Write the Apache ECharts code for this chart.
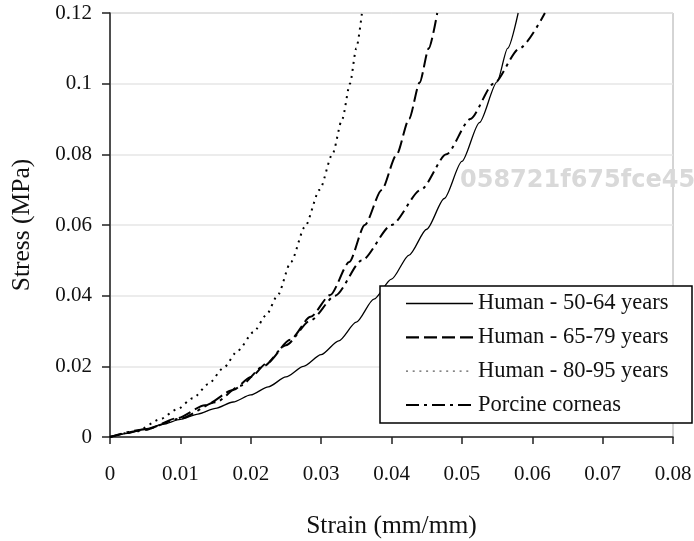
<!DOCTYPE html>
<html><head><meta charset="utf-8">
<script src="https://cdn.jsdelivr.net/npm/echarts@6/dist/echarts.min.js"></script>
<style>html,body{margin:0;padding:0;background:#fff}#c{width:694px;height:541px}</style>
</head><body><div id="c"></div>
<script>
const xTicks = [0, 0.01, 0.02, 0.03, 0.04, 0.05, 0.06, 0.07, 0.08];
const yTicks = [0, 0.02, 0.04, 0.06, 0.08, 0.1, 0.12];
const seriesNames = ['Human - 50-64 years', 'Human - 65-79 years', 'Human - 80-95 years', 'Porcine corneas'];

const strain50 = [0, 0.0025, 0.005, 0.0075, 0.01, 0.0125, 0.015, 0.0175, 0.02, 0.0225, 0.025, 0.0275, 0.03, 0.0325, 0.035, 0.0375, 0.04, 0.0425, 0.045, 0.0475, 0.05, 0.0525, 0.055, 0.0565, 0.058];
const stress50 = [0, 0.0010, 0.0023, 0.0036, 0.0050, 0.0065, 0.0081, 0.0099, 0.0119, 0.0142, 0.0170, 0.0200, 0.0233, 0.0272, 0.0325, 0.0390, 0.0447, 0.0515, 0.0588, 0.0675, 0.0780, 0.0890, 0.1005, 0.1100, 0.1200];

const strain65 = [0, 0.005, 0.0095, 0.0135, 0.0175, 0.02, 0.0223, 0.0256, 0.0285, 0.0313, 0.034, 0.0362, 0.0386, 0.0407, 0.0425, 0.044, 0.0453, 0.0465];
const stress65 = [0, 0.0020, 0.0053, 0.0090, 0.0133, 0.0170, 0.0209, 0.0275, 0.0340, 0.0402, 0.0495, 0.0600, 0.0699, 0.0798, 0.0900, 0.1003, 0.1100, 0.1200];

const strain80 = [0, 0.0038, 0.0071, 0.0095, 0.0118, 0.014, 0.0161, 0.0182, 0.0204, 0.0222, 0.0238, 0.0257, 0.0277, 0.0298, 0.0316, 0.033, 0.0341, 0.035, 0.0358];
const stress80 = [0, 0.0016, 0.0050, 0.0078, 0.0110, 0.0150, 0.0195, 0.0245, 0.0297, 0.0345, 0.0400, 0.0495, 0.0595, 0.0700, 0.0800, 0.0900, 0.1000, 0.1100, 0.1200];

const strainPorc = [0, 0.005, 0.01, 0.015, 0.0185, 0.0218, 0.025, 0.0285, 0.032, 0.0358, 0.040, 0.0442, 0.0478, 0.0512, 0.0545, 0.0582, 0.0618];
const stressPorc = [0, 0.0022, 0.0052, 0.0098, 0.0145, 0.0200, 0.0260, 0.0330, 0.0400, 0.0500, 0.0600, 0.0700, 0.0800, 0.0900, 0.1000, 0.1100, 0.1200];

const watermark = '058721f675fce45';

function pairs(xs, ys) { return xs.map((x, i) => [x, ys[i]]); }
const serif = '"Liberation Serif", "Times New Roman", serif';

const chart = echarts.init(document.getElementById('c'), null, {renderer: 'canvas'});
const lineStyles = [
  {color: '#000', width: 1.3, type: 'solid'},
  {color: '#000', width: 2, type: [13, 5]},
  {color: '#000', width: 2, type: [2, 5]},
  {color: '#000', width: 2, type: [12, 5, 3, 5]}
];
const legendSamples = [
  {stroke: '#000', lineWidth: 1.3, lineDash: null},
  {stroke: '#000', lineWidth: 2.2, lineDash: [13, 5]},
  {stroke: '#333', lineWidth: 1, lineDash: [2, 4.7]},
  {stroke: '#000', lineWidth: 2, lineDash: [13, 5, 3, 5]}
];
const datasets = [pairs(strain50, stress50), pairs(strain65, stress65), pairs(strain80, stress80), pairs(strainPorc, stressPorc)];

const legendGraphics = [
  {type: 'rect', z: 8, shape: {x: 380, y: 286, width: 312, height: 137},
    style: {fill: '#fff', stroke: '#000', lineWidth: 1.5}}
];
seriesNames.forEach((n, i) => {
  const cy = 303.5 + i * 33.8;
  legendGraphics.push({type: 'line', z: 9, shape: {x1: 406, y1: cy, x2: 473, y2: cy},
    style: Object.assign({}, legendSamples[i])});
  legendGraphics.push({type: 'text', z: 9, x: 478, y: cy,
    style: {text: n, fill: '#111', font: '22.5px ' + serif, verticalAlign: 'middle', textVerticalAlign: 'middle'}});
});

chart.setOption({
  animation: false,
  backgroundColor: '#fff',
  grid: {left: 110, right: 21, top: 13, bottom: 104, containLabel: false, outerBoundsMode: 'none',
    show: true, borderColor: '#aaaaaa', borderWidth: 1, backgroundColor: 'transparent'},
  xAxis: {
    type: 'value', min: 0, max: 0.08, interval: 0.01,
    name: 'Strain (mm/mm)', nameLocation: 'middle', nameGap: 76,
    nameTextStyle: {fontFamily: serif, fontSize: 25.5, color: '#111'},
    axisLine: {show: true, onZero: false, lineStyle: {color: '#222', width: 1.5}},
    axisTick: {show: true, length: 7, inside: false, lineStyle: {color: '#222', width: 1.5}},
    axisLabel: {margin: 27, fontFamily: serif, fontSize: 21, color: '#111',
      formatter: v => String(+v.toFixed(2))},
    splitLine: {show: false}
  },
  yAxis: {
    type: 'value', min: 0, max: 0.12, interval: 0.02,
    name: 'Stress (MPa)', nameLocation: 'middle', nameGap: 75,
    nameTextStyle: {fontFamily: serif, fontSize: 25.5, color: '#111'},
    axisLine: {show: true, onZero: false, lineStyle: {color: '#222', width: 1.5}},
    axisTick: {show: true, length: 8, inside: false, lineStyle: {color: '#222', width: 1.5}},
    axisLabel: {margin: 18, fontFamily: serif, fontSize: 21, color: '#111',
      formatter: v => String(+v.toFixed(2))},
    splitLine: {show: true, lineStyle: {color: '#e6e6e6', width: 1.5}}
  },
  graphic: legendGraphics.concat([
    {type: 'text', z: 9, x: 460, y: 181,
      style: {text: watermark, fill: '#d9d9d9', font: 'bold 24px "DejaVu Sans"', textVerticalAlign: 'middle', verticalAlign: 'middle'}}
  ]),
  series: seriesNames.map((n, i) => ({
    name: n, type: 'line', data: datasets[i], showSymbol: false, symbol: 'none',
    smooth: 0.25, smoothMonotone: 'x',
    lineStyle: lineStyles[i], itemStyle: {color: '#000'}
  }))
});
</script></body></html>
